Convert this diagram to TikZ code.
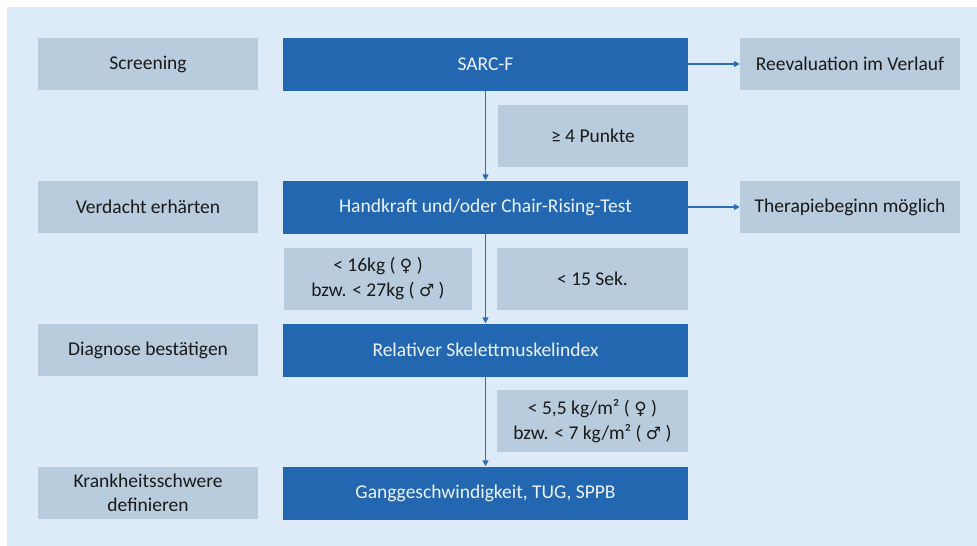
\documentclass[tikz,border=0pt]{standalone}
\usepackage{fontspec}
\setmainfont{Carlito}
\newfontfamily\symfont{DejaVu Sans}
\usetikzlibrary{positioning,arrows.meta}

\definecolor{panelblue}{HTML}{DDEAF7}
\definecolor{boxgray}{HTML}{B9CCDD}
\definecolor{stepblue}{HTML}{2467B1}
\definecolor{arrowblue}{HTML}{2C6DB5}

\newcommand{\female}{{\symfont\fontsize{17}{20}\selectfont ♀}}
\newcommand{\male}{{\symfont\fontsize{17}{20}\selectfont ♂}}

\tikzset{
  stage/.style={fill=boxgray, text=black!90, minimum width=220pt, minimum height=52pt,
    align=center, font=\fontsize{19.5}{24}\selectfont, inner sep=2pt},
  test/.style={fill=stepblue, text=white!92!stepblue, minimum width=405pt, minimum height=53pt,
    align=center, font=\fontsize{19.5}{24}\selectfont, inner sep=2pt},
  crit/.style={fill=boxgray, text=black!90, minimum height=62pt,
    align=center, font=\fontsize{19.5}{25}\selectfont, inner sep=2pt},
  flow/.style={draw=arrowblue, line width=1.8pt, -{Triangle[length=6pt,width=6pt]}}
}

\begin{document}
\begin{tikzpicture}[x=1pt,y=-1pt]
  \useasboundingbox (0,0) rectangle (977,546);
  \fill[panelblue] (7,7) rectangle (977,546);

  % stages on the left
  \node[stage] (screen)   at (148,64)  {Screening};
  \node[stage] (verdacht) at (148,207) {Verdacht erhärten};
  \node[stage] (diagnose) at (148,350) {Diagnose bestätigen};
  \node[stage] (krank)    at (148,493) {Krankheitsschwere\\definieren};

  % tests in the middle
  \node[test] (sarc) at (485.5,64)  {SARC-F};
  \node[test] (hand) at (485.5,207) {Handkraft und/oder Chair-Rising-Test};
  \node[test] (rsmi) at (485.5,350) {Relativer Skelettmuskelindex};
  \node[test] (gang) at (485.5,493) {Ganggeschwindigkeit, TUG, SPPB};

  % outcomes on the right
  \node[stage] (reeval) at (850,64)  {Reevaluation im Verlauf};
  \node[stage] (thera)  at (850,207) {Therapiebeginn möglich};

  % thresholds
  \node[crit, minimum width=190pt] (punkte) at (593,136)   {≥ 4 Punkte};
  \node[crit, minimum width=188pt] (kraft)  at (378,279)   {< 16kg ( \female\ )\\bzw. < 27kg ( \male\ )};
  \node[crit, minimum width=191pt] (sek)    at (592.5,279) {< 15 Sek.};
  \node[crit, minimum width=191pt] (index)  at (592.5,421) {< 5,5 kg/m² ( \female\ )\\bzw. < 7 kg/m² ( \male\ )};

  \draw[flow] (sarc.east) -- (reeval.west);
  \draw[flow] (hand.east) -- (thera.west);
  \draw[flow] (sarc.south) -- (hand.north);
  \draw[flow] (hand.south) -- (rsmi.north);
  \draw[flow] (rsmi.south) -- (gang.north);
\end{tikzpicture}
\end{document}
